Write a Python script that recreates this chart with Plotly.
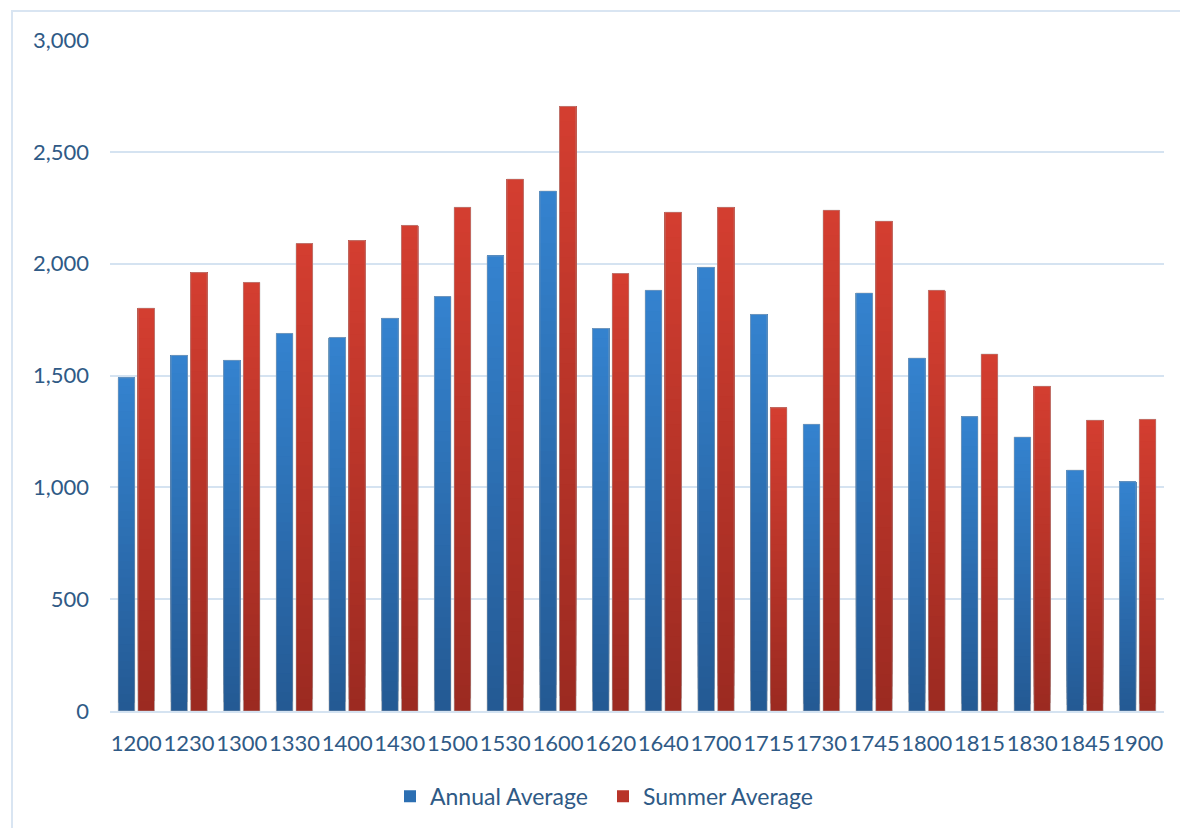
import plotly.graph_objects as go

# Time-of-day categories and the two averages
periods = ["1200", "1230", "1300", "1330", "1400", "1430", "1500", "1530", "1600", "1620",
           "1640", "1700", "1715", "1730", "1745", "1800", "1815", "1830", "1845", "1900"]
annual_avg = [1490, 1590, 1568, 1688, 1670, 1756, 1853, 2035, 2325, 1710,
              1881, 1984, 1773, 1282, 1869, 1578, 1316, 1225, 1077, 1025]
summer_avg = [1801, 1960, 1916, 2090, 2103, 2171, 2252, 2378, 2703, 1956,
              2230, 2252, 1356, 2239, 2190, 1881, 1596, 1452, 1300, 1304]

y_ticks = [0, 500, 1000, 1500, 2000, 2500, 3000]

TEXT = "#2f5a86"
GRID = "#d5e3f1"
N_STEPS = 40  # bands used to shade each bar from base to top


def lerp(c0, c1, t):
    return "rgb({},{},{})".format(*[round(a + (b - a) * t) for a, b in zip(c0, c1)])


series = [
    ("Annual Average", annual_avg, (36, 90, 148), (52, 130, 206), "annual"),
    ("Summer Average", summer_avg, (156, 42, 33), (211, 62, 48), "summer"),
]

fig = go.Figure()
for name, vals, dark, light, grp in series:
    for k in range(N_STEPS):
        t = k / (N_STEPS - 1)
        # each band runs from its own base up to the bar top; later bands paint over
        fig.add_trace(go.Bar(
            x=periods,
            y=[v * (1 - k / N_STEPS) for v in vals],
            base=[v * k / N_STEPS for v in vals],
            offsetgroup=grp,
            marker=dict(color=lerp(dark, light, t), line=dict(width=0)),
            name=name,
            legendgroup=grp,
            showlegend=(k == N_STEPS // 2),
            hoverinfo="skip",
        ))
    # thin edge around each whole bar
    fig.add_trace(go.Bar(
        x=periods,
        y=vals,
        offsetgroup=grp,
        marker=dict(color="rgba(0,0,0,0)",
                    line=dict(color="rgba(175,175,175,0.5)", width=1)),
        name=name,
        legendgroup=grp,
        showlegend=False,
        hovertemplate=name + " %{x}: %{y:,}<extra></extra>",
    ))

plot_l, plot_r, plot_t, plot_b = 110, 1164, 40, 711
pw, ph = plot_r - plot_l, plot_b - plot_t

fig.update_layout(
    width=1180,
    height=828,
    margin=dict(l=plot_l, r=1180 - plot_r, t=plot_t, b=828 - plot_b, autoexpand=False),
    paper_bgcolor="white",
    plot_bgcolor="white",
    barmode="group",
    bargap=0.25,
    bargroupgap=0.16,
    font=dict(family="Lato, 'Open Sans', sans-serif", size=22, color=TEXT),
    showlegend=True,
    legend=dict(
        orientation="h",
        x=(390 - plot_l) / pw, xanchor="left",
        y=-0.127, yanchor="middle",
        font=dict(size=23, color=TEXT),
        itemwidth=30,
        entrywidth=168,
        traceorder="normal",
    ),
    xaxis=dict(
        type="category",
        showgrid=False,
        showline=True,
        linecolor=GRID,
        linewidth=2,
        ticks="",
        tickangle=0,
        automargin=False,
        ticklabelstandoff=12,
        tickfont=dict(size=22, color=TEXT),
    ),
    yaxis=dict(
        range=[0, 3000],
        tickvals=y_ticks,
        tickformat=",",
        showgrid=True,
        gridcolor=GRID,
        gridwidth=2,
        zeroline=False,
        showline=False,
        ticks="",
        automargin=False,
        ticklabelstandoff=20,
        tickfont=dict(size=22, color=TEXT),
    ),
    shapes=[dict(
        type="rect",
        xref="paper", yref="paper",
        x0=(12 - plot_l) / pw, x1=(1190 - plot_l) / pw,
        y0=(plot_b - 840) / ph, y1=(plot_b - 11) / ph,
        line=dict(color="#d9e5f2", width=2),
        fillcolor="rgba(0,0,0,0)",
        layer="below",
    )],
)

fig.write_html("out.html")
